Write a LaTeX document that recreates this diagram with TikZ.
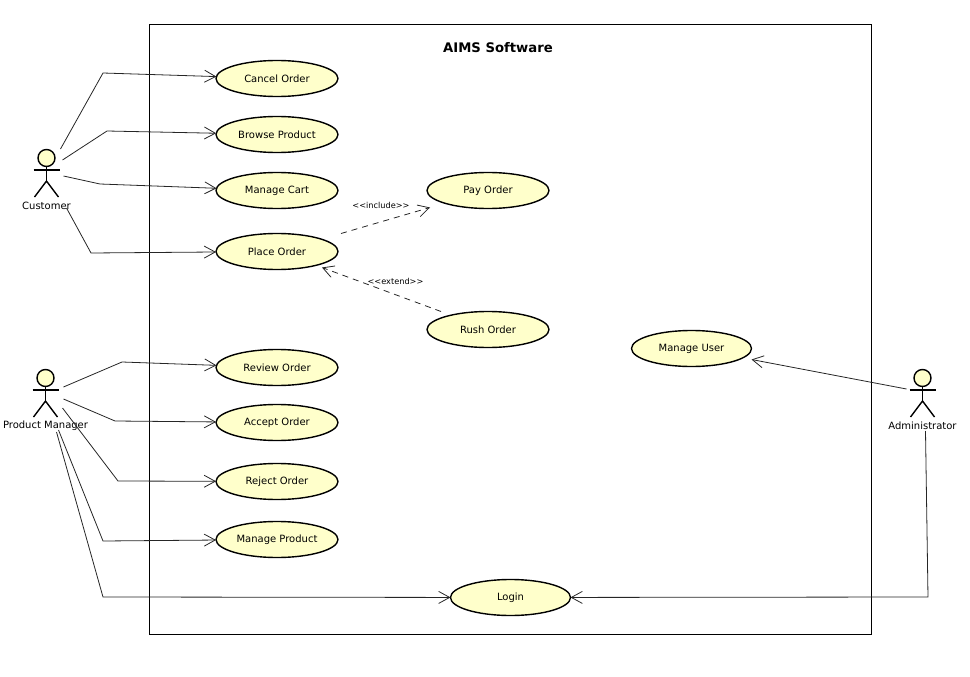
\documentclass[tikz,border=0pt]{standalone}
\usepackage{fontspec}
\setmainfont{DejaVu Sans}
\usetikzlibrary{arrows.meta,shapes.geometric}
\definecolor{usecasefill}{HTML}{FFFFCB}
\tikzset{
    usecase/.style={ellipse, draw, line width=1.4pt, fill=usecasefill, minimum width=122pt, minimum height=36pt, inner sep=0pt, outer sep=0pt, font=\fontsize{10}{12}\selectfont},
    actorname/.style={inner sep=0pt, font=\fontsize{10}{12}\selectfont},
    stereotype/.style={inner sep=0pt, font=\fontsize{8.2}{10}\selectfont},
    actorline/.style={line width=1.4pt},
    link/.style={draw=black!85, line width=0.8pt, ->, >={Straight Barb[length=11pt,width=12pt,line width=0.8pt]}},
    dep/.style={link, dashed, dash pattern=on 6pt off 5pt},
}
\begin{document}
\begin{tikzpicture}[x=1pt, y=-1pt]
    \useasboundingbox (0, 0) rectangle (970, 677);

    % System boundary
    \node[draw, line width=1pt, minimum width=722pt, minimum height=610pt, inner sep=0pt] (aims) at (510.5, 329.5) {};
    \node[inner sep=0pt, font=\fontsize{13.2}{15}\selectfont\bfseries] (aimstitle) at (498, 48) {AIMS Software};

    % Use cases
    \foreach \name/\x/\y/\txt in {cancel/277/78.5/Cancel Order, browse/277/134.5/Browse Product,
        cart/277/190.5/Manage Cart, place/277/251.5/Place Order, pay/488/190.5/Pay Order,
        rush/488/329.5/Rush Order, review/277/367.5/Review Order,
        accept/277/422.5/Accept Order, reject/277/481.5/Reject Order, manageproduct/277/539.5/Manage Product}
        \node[usecase] (\name) at (\x, \y) {\txt};
    \node[usecase, minimum width=120pt] (manageuser) at (691.5, 348.5) {Manage User};
    \node[usecase, minimum width=120pt] (login) at (510.5, 597.5) {Login};

    % Actors
    \foreach \name/\x/\y/\txt in {customer/46.5/158/Customer, manager/45.5/378/Product Manager, admin/922.5/378/Administrator} {
        \node[inner sep=0pt, minimum size=0pt] (\name) at (\x, \y) {};
        \node[actorname] (\name label) at (\x, \y + 47.5) {\txt};
        \draw[actorline, fill=usecasefill] (\name) circle (8.5);
        \draw[actorline] ([shift={(-13, 12)}]\name.center) -- ([shift={(13, 12)}]\name.center);
        \draw[actorline] ([shift={(0, 8.5)}]\name.center) -- ([shift={(0, 23)}]\name.center);
        \draw[actorline] ([shift={(-12, 39)}]\name.center) -- ([shift={(0, 23)}]\name.center) -- ([shift={(12, 39)}]\name.center);
    }

    % Customer links
    \draw[link] ([shift={(14, -9)}]customer.center) -- (103, 73) -- (cancel);
    \draw[link] ([shift={(16, 2)}]customer.center) -- (107, 131) -- (browse);
    \draw[link] ([shift={(17, 18)}]customer.center) -- (100, 184) -- (cart);
    \draw[link] ([shift={(20, 50)}]customer.center) -- (91, 253) -- (place);

    % Product manager links
    \draw[link] ([shift={(18, 9)}]manager.center) -- (122, 362) -- (review);
    \draw[link] ([shift={(18, 21)}]manager.center) -- (115, 421) -- (accept);
    \draw[link] ([shift={(17, 30)}]manager.center) -- (118, 481) -- (reject);
    \draw[link] ([shift={(13, 52)}]manager.center) -- (103, 541) -- (manageproduct);
    \draw[link] ([shift={(11, 54)}]manager.center) -- (103, 597) -- (login);

    % Administrator links
    \draw[link] ([shift={(-16, 11)}]admin.center) -- ([shift={(60, 11)}]manageuser.center);
    \draw[link] ([shift={(3, 53)}]admin.center) -- (928, 597) -- (login);

    % Dependencies
    \draw[dep] ([shift={(64, -18)}]place.center) -- ([shift={(-58, 17)}]pay.center);
    \draw[dep] ([shift={(-47, -18)}]rush.center) -- ([shift={(45, 16)}]place.center);
    \node[stereotype] (includelabel) at (381, 205) {{<}{<}include{>}{>}};
    \node[stereotype] (extendlabel) at (395.5, 281) {{<}{<}extend{>}{>}};
\end{tikzpicture}
\end{document}
